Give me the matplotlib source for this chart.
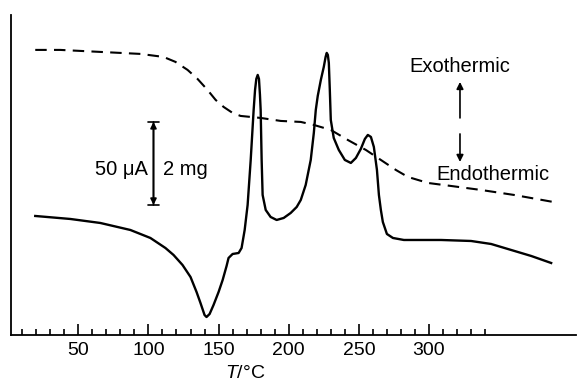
import matplotlib
matplotlib.use('Agg')
import matplotlib.pyplot as plt
import numpy as np

#############################
# style #####################
#############################

plt.rcParams['font.family'] = ['Liberation Sans', 'DejaVu Sans']
plt.rcParams['mathtext.fontset'] = 'custom'
plt.rcParams['mathtext.it'] = 'Liberation Sans:italic'
plt.rcParams['mathtext.rm'] = 'Liberation Sans'

#############################
# data #
#############################

# DTA trace, temperature in C, signal in arbitrary units
dta_T = [19.3, 44.3, 65.7, 87.1, 101.4, 112.1, 117.9, 124.3, 130.0, 134.3,
         137.1, 140.0, 141.4, 143.6, 146.4, 150.0, 152.9, 155.7, 157.1, 160.0,
         164.3, 166.4, 168.6, 170.7, 172.9, 175.0, 176.0, 176.9, 177.9, 178.8,
         179.5, 180.0, 180.7, 181.4, 183.6, 187.1, 191.4, 196.4, 201.4, 205.7,
         208.6, 212.1, 215.7, 217.9, 219.3, 220.7, 222.9, 225.0, 226.3, 227.1,
         227.9, 228.6, 229.3, 230.0, 232.1, 235.7, 240.0, 244.3, 247.9, 251.4,
         254.3, 256.4, 258.6, 260.7, 262.9, 264.3, 265.7, 267.1, 270.0, 274.3,
         282.1, 308.6, 330.0, 344.3, 358.6, 372.9, 387.1]
dta_sig = [119, 116, 112, 105, 97, 87, 80, 70, 58, 43,
           32, 20, 18, 21, 30, 43, 55, 69, 77, 81,
           82, 87, 105, 130, 175, 225, 245, 256, 260, 256,
           240, 225, 175, 140, 125, 118, 115, 117, 122, 128,
           135, 150, 175, 202, 225, 239, 255, 268, 278, 282,
           280, 272, 245, 215, 197, 185, 175, 172, 177, 186,
           196, 200, 198, 188, 165, 140, 125, 113, 101, 97,
           95, 95, 94, 91, 85, 79, 72]

# TG trace (mass), same arbitrary units
tg_T = [19.3, 37.1, 65.7, 94.3, 110.7, 119.3, 127.9, 135.0, 142.1, 147.9,
        153.6, 160.0, 165.7, 180.0, 194.3, 208.6, 217.9, 230.0, 242.1, 255.0,
        265.7, 276.4, 285.0, 299.3, 315.7, 337.1, 360.7, 388.6]
tg_sig = [285, 285, 283, 281, 278, 273, 265, 256, 245, 235,
          228, 222, 219, 217, 214, 213, 210, 205, 195, 185,
          175, 165, 158, 152, 149, 145, 140, 133]

major_ticks = [50, 100, 150, 200, 250, 300]
minor_ticks = list(range(10, 350, 10))

#############################
# plot ######################
#############################

fig = plt.figure(figsize=(5.78, 3.82), dpi=100)
ax = fig.add_axes([0.019, 0.123, 0.978, 0.838])

ax.plot(dta_T, dta_sig, color='k', linewidth=1.7, solid_joinstyle='round')
ax.plot(tg_T, tg_sig, color='k', linewidth=1.5, linestyle=(0, (5.5, 3.5)))

ax.set_xlim(2, 405)
ax.set_ylim(0, 320)

for s in ['top', 'right']:
    ax.spines[s].set_visible(False)
ax.spines['left'].set_linewidth(1.3)
ax.spines['bottom'].set_linewidth(1.3)

ax.set_yticks([])
ax.set_xticks(major_ticks)
ax.set_xticks(minor_ticks, minor=True)
ax.tick_params(axis='x', which='major', direction='in', length=8, width=1.2,
               labelsize=14, pad=5)
ax.tick_params(axis='x', which='minor', direction='in', length=4.5, width=1.2)

ax.set_xlabel('$T$/°C', fontsize=14, labelpad=0)
ax.xaxis.set_label_coords(0.414, -0.095)

# scale bar
ax.annotate('', xy=(103.6, 213), xytext=(103.6, 130),
            arrowprops=dict(arrowstyle='<|-|>', color='k', lw=1.2,
                            mutation_scale=9, shrinkA=0, shrinkB=0))
ax.annotate('', xy=(103.6, 213), xytext=(103.6, 130),
            arrowprops=dict(arrowstyle='|-|, widthA=0.4, widthB=0.4',
                            color='k', lw=1.2, shrinkA=0, shrinkB=0))
ax.text(99.5, 165, '50 μA', ha='right', va='center', fontsize=14.5)
ax.text(110.5, 165, '2 mg', ha='left', va='center', fontsize=14.5)

# exo / endo arrows
ax.annotate('', xy=(322.1, 253), xytext=(322.1, 217),
            arrowprops=dict(arrowstyle='-|>', color='k', lw=1.2,
                            mutation_scale=10, shrinkA=0, shrinkB=0))
ax.annotate('', xy=(322.1, 173), xytext=(322.1, 201),
            arrowprops=dict(arrowstyle='-|>', color='k', lw=1.2,
                            mutation_scale=10, shrinkA=0, shrinkB=0))
ax.text(322.1, 268, 'Exothermic', ha='center', va='center', fontsize=14.5)
ax.text(345.7, 160, 'Endothermic', ha='center', va='center', fontsize=14.5)

plt.savefig('out.png', dpi=100)
